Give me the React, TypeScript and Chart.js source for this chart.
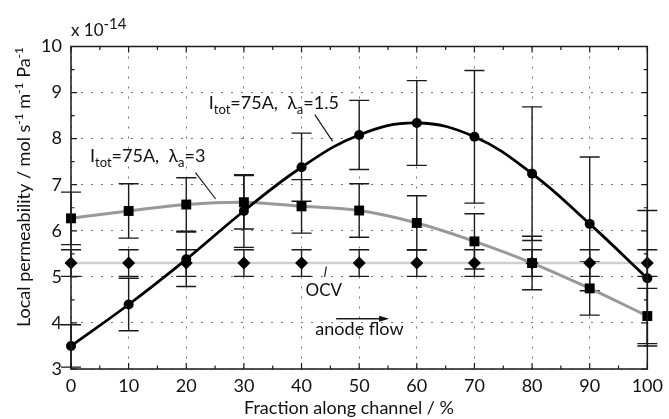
import React, { useEffect, useRef } from "react";
import { Chart, registerables } from "chart.js";

Chart.register(...registerables);

// ---------- data ----------
const positions = [0, 10, 20, 30, 40, 50, 60, 70, 80, 90, 100];
const lambda15Values = [3.5, 4.4, 5.38, 6.43, 7.38, 8.08, 8.34, 8.04, 7.24, 6.15, 4.97];
const lambda15Errors = [0.46, 0.57, 0.59, 0.79, 0.74, 0.75, 0.92, 1.44, 1.45, 1.45, 1.47];
const lambda3Values = [6.27, 6.43, 6.57, 6.62, 6.53, 6.44, 6.17, 5.77, 5.3, 4.75, 4.15];
const lambda3Errors = [0.57, 0.59, 0.58, 0.58, 0.58, 0.58, 0.59, 0.6, 0.58, 0.58, 0.6];
const ocvValues = [5.3, 5.3, 5.3, 5.3, 5.3, 5.3, 5.3, 5.3, 5.3, 5.3, 5.3];
const ocvErrors = [0.29, 0.29, 0.29, 0.29, 0.29, 0.29, 0.29, 0.29, 0.29, 0.29, 0.29];
const xTickValues = [0, 10, 20, 30, 40, 50, 60, 70, 80, 90, 100];
const yTickValues = [3, 4, 5, 6, 7, 8, 9, 10];

// ---------- annotation anchors (data coordinates) ----------
const ANN = {
  l15Text: [23.9, 8.65],
  l15Lead: [[42.3, 8.52], [45.4, 7.94]],
  l3Text: [3.3, 7.5],
  l3Lead: [[21.6, 7.26], [25.1, 6.69]],
  ocvText: [40.7, 4.59],
  ocvLead: [[44.3, 5.22], [44.0, 5.0]],
  flowText: [42.4, 3.73],
  flowArrow: [[46.0, 4.09], [55.2, 4.09]],
};

const FONT = "Lato, 'Liberation Sans', sans-serif";
const TEXT = "#111";

type Part = { t: string; size: number; dy: number };

function richWidth(ctx: CanvasRenderingContext2D, parts: Part[]) {
  let w = 0;
  for (const p of parts) {
    ctx.font = `${p.size}px ${FONT}`;
    w += ctx.measureText(p.t).width;
  }
  return w;
}

function drawRich(ctx: CanvasRenderingContext2D, parts: Part[], x: number, y: number) {
  let cx = x;
  ctx.textBaseline = "alphabetic";
  ctx.textAlign = "left";
  for (const p of parts) {
    ctx.font = `${p.size}px ${FONT}`;
    ctx.fillText(p.t, cx, y + p.dy);
    cx += ctx.measureText(p.t).width;
  }
}

const errorBarPlugin = {
  id: "errorBars",
  beforeDatasetsDraw(chart: any) {
    const { ctx, scales } = chart;
    const xs = scales.x;
    const ys = scales.y;
    const sets: [number[], number[]][] = [
      [ocvValues, ocvErrors],
      [lambda3Values, lambda3Errors],
      [lambda15Values, lambda15Errors],
    ];
    ctx.save();
    ctx.strokeStyle = "#1a1a1a";
    ctx.lineWidth = 1.4;
    for (const [vals, errs] of sets) {
      vals.forEach((v, i) => {
        const px = xs.getPixelForValue(positions[i]);
        const top = ys.getPixelForValue(v + errs[i]);
        const bot = ys.getPixelForValue(v - errs[i]);
        ctx.beginPath();
        ctx.moveTo(px, top);
        ctx.lineTo(px, bot);
        ctx.moveTo(px - 10, top);
        ctx.lineTo(px + 10, top);
        ctx.moveTo(px - 10, bot);
        ctx.lineTo(px + 10, bot);
        ctx.stroke();
      });
    }
    ctx.restore();
  },
};

const decorPlugin = {
  id: "decor",
  afterDraw(chart: any) {
    const { ctx, chartArea, scales } = chart;
    const xs = scales.x;
    const ys = scales.y;
    const { left, right, top, bottom } = chartArea;
    const P = (v: number[]) => [xs.getPixelForValue(v[0]), ys.getPixelForValue(v[1])];

    ctx.save();
    // box
    ctx.strokeStyle = "#1a1a1a";
    ctx.lineWidth = 1.5;
    ctx.strokeRect(left, top, right - left, bottom - top);

    // inward ticks (major + minor)
    ctx.lineWidth = 1.2;
    ctx.beginPath();
    for (let v = 0; v <= 100; v += 5) {
      const px = xs.getPixelForValue(v);
      const len = v % 10 === 0 ? 6 : 3.5;
      ctx.moveTo(px, bottom);
      ctx.lineTo(px, bottom - len);
      ctx.moveTo(px, top);
      ctx.lineTo(px, top + len);
    }
    for (let v = 3; v <= 10.001; v += 0.5) {
      const py = ys.getPixelForValue(v);
      const len = Math.abs(v - Math.round(v)) < 1e-6 ? 6 : 3.5;
      ctx.moveTo(left, py);
      ctx.lineTo(left + len, py);
      ctx.moveTo(right, py);
      ctx.lineTo(right - len, py);
    }
    ctx.stroke();

    ctx.fillStyle = TEXT;
    // exponent
    drawRich(
      ctx,
      [
        { t: "x 10", size: 17, dy: 0 },
        { t: "-14", size: 15, dy: -7 },
      ],
      left,
      top - 11
    );

    const annParts = (last: string): Part[] => [
      { t: "I", size: 18, dy: 0 },
      { t: "tot", size: 13, dy: 5 },
      { t: "=75A,", size: 18, dy: 0 },
      { t: "   ", size: 12, dy: 0 },
      { t: "λ", size: 18, dy: 0 },
      { t: "a", size: 13, dy: 5 },
      { t: last, size: 18, dy: 0 },
    ];

    let [tx, ty] = P(ANN.l15Text);
    drawRich(ctx, annParts("=1.5"), tx, ty);
    [tx, ty] = P(ANN.l3Text);
    drawRich(ctx, annParts("=3"), tx, ty);
    [tx, ty] = P(ANN.ocvText);
    drawRich(ctx, [{ t: "OCV", size: 17, dy: 0 }], tx, ty);
    [tx, ty] = P(ANN.flowText);
    drawRich(ctx, [{ t: "anode flow", size: 18, dy: 0 }], tx, ty);

    // leader lines
    ctx.strokeStyle = "#1a1a1a";
    ctx.lineWidth = 1.2;
    for (const seg of [ANN.l15Lead, ANN.l3Lead, ANN.ocvLead]) {
      const a = P(seg[0]);
      const b = P(seg[1]);
      ctx.beginPath();
      ctx.moveTo(a[0], a[1]);
      ctx.lineTo(b[0], b[1]);
      ctx.stroke();
    }
    // arrow
    const a0 = P(ANN.flowArrow[0]);
    const a1 = P(ANN.flowArrow[1]);
    ctx.lineWidth = 1.6;
    ctx.beginPath();
    ctx.moveTo(a0[0], a0[1]);
    ctx.lineTo(a1[0] - 8, a1[1]);
    ctx.stroke();
    ctx.beginPath();
    ctx.moveTo(a1[0], a1[1]);
    ctx.lineTo(a1[0] - 10, a1[1] - 3);
    ctx.lineTo(a1[0] - 10, a1[1] + 3);
    ctx.closePath();
    ctx.fill();

    // x title
    ctx.font = `18px ${FONT}`;
    ctx.textAlign = "center";
    ctx.textBaseline = "alphabetic";
    ctx.fillText("Fraction along channel / %", 349, 414);

    // y title (rotated, with superscripts)
    const yParts: Part[] = [
      { t: "Local permeability / mol s", size: 18, dy: 0 },
      { t: "-1", size: 12, dy: -7 },
      { t: " m", size: 18, dy: 0 },
      { t: "-1", size: 12, dy: -7 },
      { t: " Pa", size: 18, dy: 0 },
      { t: "-1", size: 12, dy: -7 },
    ];
    const w = richWidth(ctx, yParts);
    ctx.save();
    ctx.translate(30, 187);
    ctx.rotate(-Math.PI / 2);
    drawRich(ctx, yParts, -w / 2, 0);
    ctx.restore();

    ctx.restore();
  },
};

export default function App() {
  const ref = useRef<HTMLCanvasElement>(null);

  useEffect(() => {
    document.body.style.margin = "0";
    const canvas = ref.current;
    if (!canvas) return;
    const toXY = (vals: number[]) => vals.map((v, i) => ({ x: positions[i], y: v }));

    const chart = new Chart(canvas, {
      type: "line",
      data: {
        datasets: [
          {
            label: "Itot=75A, λa=1.5",
            data: toXY(lambda15Values),
            borderColor: "#000",
            backgroundColor: "#000",
            borderWidth: 2.8,
            pointStyle: "circle",
            pointRadius: 5,
            pointBorderWidth: 0,
            tension: 0.4,
            clip: false as any,
            order: 0,
          },
          {
            label: "Itot=75A, λa=3",
            data: toXY(lambda3Values),
            borderColor: "#999999",
            backgroundColor: "#000",
            borderWidth: 3,
            pointStyle: "rect",
            pointRadius: 7,
            pointBorderWidth: 0,
            tension: 0.4,
            clip: false as any,
            order: 1,
          },
          {
            label: "OCV",
            data: toXY(ocvValues),
            borderColor: "#cfcfcf",
            backgroundColor: "#000",
            borderWidth: 2.5,
            pointStyle: "rectRot",
            pointRadius: 6.5,
            pointBorderWidth: 0,
            tension: 0,
            clip: false as any,
            order: 2,
          },
        ],
      },
      options: {
        animation: false,
        responsive: false,
        devicePixelRatio: 1,
        layout: { padding: { top: 46.5, right: 16, left: 0, bottom: 0 } },
        plugins: {
          legend: { display: false },
          tooltip: { enabled: false },
        },
        scales: {
          x: {
            type: "linear",
            min: 0,
            max: 100,
            afterFit: (s: any) => {
              s.height = 50;
            },
            afterBuildTicks: (s: any) => {
              s.ticks = xTickValues.map((v) => ({ value: v }));
            },
            ticks: {
              padding: 6,
              color: TEXT,
              font: { family: FONT, size: 18 },
              maxRotation: 0,
            },
            grid: {
              color: "rgba(0,0,0,0.55)",
              lineWidth: 1,
              drawTicks: false,
            },
            border: { display: false, dash: [2, 8] },
          },
          y: {
            type: "linear",
            min: 3,
            max: 10,
            afterFit: (s: any) => {
              s.width = 71;
            },
            afterBuildTicks: (s: any) => {
              s.ticks = yTickValues.map((v) => ({ value: v }));
            },
            ticks: {
              padding: 9,
              color: TEXT,
              font: { family: FONT, size: 18 },
            },
            grid: {
              color: "rgba(0,0,0,0.55)",
              lineWidth: 1,
              drawTicks: false,
            },
            border: { display: false, dash: [2, 8] },
          },
        },
      },
      plugins: [errorBarPlugin, decorPlugin],
    });
    return () => chart.destroy();
  }, []);

  return (
    <div style={{ position: "fixed", left: 0, top: 0, width: 669, height: 419, background: "#fff" }}>
      <canvas ref={ref} width={669} height={419} />
    </div>
  );
}
